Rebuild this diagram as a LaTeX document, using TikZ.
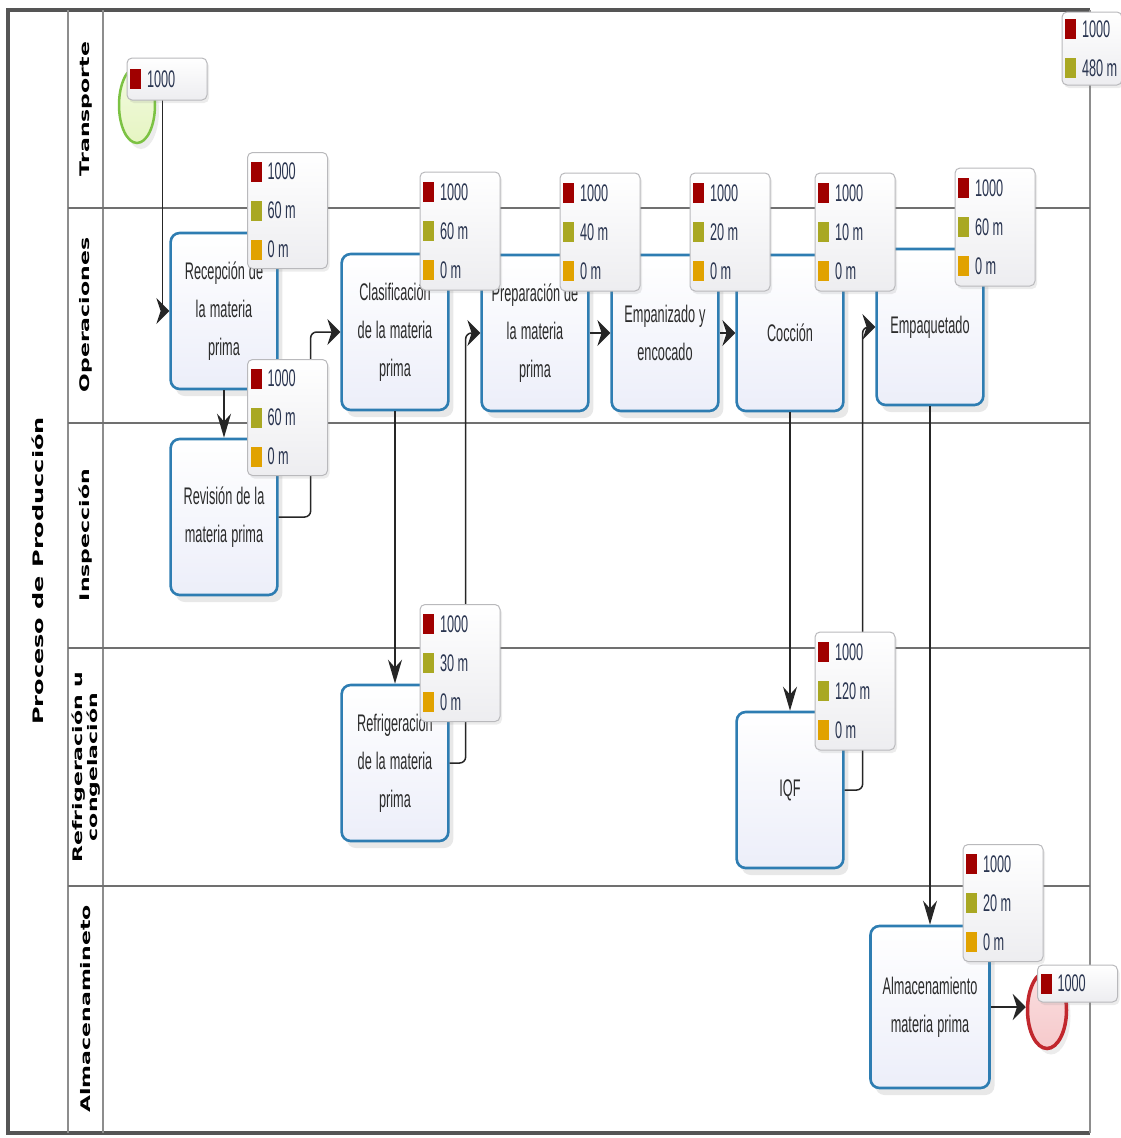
\documentclass[tikz,border=0pt]{standalone}
\usepackage{fontspec,graphicx}
\usetikzlibrary{arrows.meta,shapes.geometric,shadows}
\newfontfamily\taskfont[FakeStretch=0.53]{Liberation Sans}
\newfontfamily\lanefont{DejaVu Sans}
\definecolor{taskBlue}{HTML}{2E7DB2}
\definecolor{taskFill}{HTML}{ECEEF9}
\definecolor{taskText}{HTML}{2B2B2B}
\definecolor{badgeLine}{HTML}{B9B9BC}
\definecolor{badgeFill}{HTML}{EDEDF0}
\definecolor{textNavy}{HTML}{2A3550}
\definecolor{markRed}{HTML}{A00000}
\definecolor{markOlive}{HTML}{A9A823}
\definecolor{markAmber}{HTML}{E1A200}
\definecolor{laneGray}{HTML}{707070}
\definecolor{frameGray}{HTML}{555555}
\definecolor{startGreen}{HTML}{7CC243}
\definecolor{startFill}{HTML}{E6F5C2}
\definecolor{endRed}{HTML}{C1272D}
\definecolor{endFill}{HTML}{F6C9CB}
\newcommand\tasktext{\taskfont\fontsize{24}{38}\selectfont}
\newcommand\badgetext{\taskfont\fontsize{24}{39}\selectfont}
\newcommand\tightspace{\spaceskip=3.8pt plus 1pt\relax}
\newcommand\squash[1]{\scalebox{1}[0.6]{#1}}
\newcommand\badgerow[2]{\textcolor{#1}{\rule[-2pt]{11pt}{20pt}}\hspace{6pt}{\spaceskip=3.5pt\relax #2}}
\newcommand\trio[3]{\badgerow{markRed}{#1}\\\badgerow{markOlive}{#2}\\\badgerow{markAmber}{#3}}
\tikzset{
    task/.style={draw=taskBlue,line width=2.6pt,rounded corners=9pt,
        top color=white,bottom color=taskFill,minimum width=104,minimum height=156,
        text width=100,align=center,text=taskText,font=\tasktext,
        execute at begin node=\tightspace,
        drop shadow={shadow xshift=5pt,shadow yshift=-7pt,opacity=0.18}},
    badge/.style={draw=badgeLine,line width=1pt,rounded corners=5pt,
        top color=white,bottom color=badgeFill,text width=74,inner xsep=3pt,
        inner ysep=0pt,align=left,text=textNavy,font=\badgetext,
        drop shadow={shadow xshift=2pt,shadow yshift=-3pt,opacity=0.15}},
    startev/.style={ellipse,draw=startGreen,line width=2.5pt,
        top color=white!50!startFill,bottom color=startFill,
        minimum width=36,minimum height=76,inner sep=0pt,
        drop shadow={shadow xshift=4pt,shadow yshift=-6pt,opacity=0.15}},
    endev/.style={ellipse,draw=endRed,line width=3.5pt,
        top color=white!40!endFill,bottom color=endFill,
        minimum width=39,minimum height=77,inner sep=0pt,
        drop shadow={shadow xshift=4pt,shadow yshift=-6pt,opacity=0.15}},
    lanelabel/.style={rotate=90,font=\lanefont\bfseries\fontsize{22}{15}\selectfont,
        align=center,inner sep=0pt},
    poolline/.style={draw=frameGray,line width=3.5pt},
    sepline/.style={draw=laneGray!80,line width=1.5pt},
    laneline/.style={draw=laneGray,line width=2.6pt},
    flow/.style={draw=black!85,line width=1.5pt},
    hflow/.style={flow,-{Stealth[length=13pt,width=26pt]}},
    vflow/.style={flow,-{Stealth[length=24pt,width=14pt]}}
}
\begin{document}
\begin{tikzpicture}[x=1pt,y=-1pt]
    \useasboundingbox (0,0) rectangle (1121,1138);

    % marco del pool y carriles
    \draw[poolline] (1090,10) -- (8,10) -- (8,1133) -- (1090,1133);
    \draw[sepline] (1090,10) -- (1090,1133);
    \draw[sepline] (68,10) -- (68,1133);
    \draw[sepline] (103,10) -- (103,1133);
    \foreach \y in {208,423,648,886}
        \draw[laneline] (68,\y) -- (1090,\y);

    \node[lanelabel,font=\lanefont\bfseries\fontsize{24}{15}\selectfont] (pool) at (38,571)
        {\squash{Proceso de Producción}};
    \node[lanelabel] (ltra) at (86,109) {\squash{Transporte}};
    \node[lanelabel] (lope) at (86,315) {\squash{Operaciones}};
    \node[lanelabel] (lins) at (86,535) {\squash{Inspección}};
    \node[lanelabel] (lref) at (86,767)
        {\squash{Refrigeración u}\\\squash{congelación}};
    \node[lanelabel] (lalm) at (86,1009) {\squash{Almacenamineto}};

    % tareas
    \node[task] (rec) at (224,311) {Recepción de\\la materia\\prima};
    \node[task] (rev) at (224,517) {Revisión de la\\materia prima};
    \node[task] (cla) at (395,332) {Clasificación\\de la materia\\prima};
    \node[task] (pre) at (535,333) {Preparación de\\la materia\\prima};
    \node[task] (emp) at (665,333) {Empanizado y\\encocado};
    \node[task] (coc) at (790,333) {Cocción};
    \node[task] (paq) at (930,327) {Empaquetado};
    \node[task] (ref) at (395,763) {Refrigeración\\de la materia\\prima};
    \node[task] (iqf) at (790,790) {IQF};
    \node[task,minimum width=119,minimum height=162,text width=112] (alm) at (930,1007)
        {Almacenamiento\\materia prima};

    \node[startev] (start) at (137,105) {};
    \node[endev] (fin) at (1047,1010) {};

    % flujo
    \draw[hflow] (start.north east) -- ++(12,0) |- (rec.west);
    \draw[vflow] (rec.south) -- (rev.north);
    \draw[hflow,rounded corners=6pt] (rev.east) -- ++(32,0) |- (cla.west);
    \draw[vflow] (cla.south) -- (ref.north);
    \draw[hflow,rounded corners=6pt] (ref.east) -- ++(16,0) |- (pre.west);
    \draw[hflow] (pre.east) -- (emp.west);
    \draw[hflow] (emp.east) -- (coc.west);
    \draw[vflow] (coc.south) -- (iqf.north);
    \draw[hflow,rounded corners=6pt] (iqf.east) -- ++(18,0) |- (paq.west);
    \draw[vflow] (paq.south) -- (alm.north);
    \draw[hflow] (alm.east) -- (alm.east -| fin.west);

    % indicadores
    \node[badge,minimum height=42] (bsta) at (167,79) {\badgerow{markRed}{1000}};
    \node[badge,minimum height=116] (brec) at (287.5,210.5) {\trio{1000}{60 m}{0 m}};
    \node[badge,minimum height=116] (brev) at (287.5,417.5) {\trio{1000}{60 m}{0 m}};
    \node[badge,minimum height=118] (bcla) at (460,231) {\trio{1000}{60 m}{0 m}};
    \node[badge,minimum height=118] (bpre) at (600,232) {\trio{1000}{40 m}{0 m}};
    \node[badge,minimum height=118] (bemp) at (730,232) {\trio{1000}{20 m}{0 m}};
    \node[badge,minimum height=118] (bcoc) at (855,232) {\trio{1000}{10 m}{0 m}};
    \node[badge,minimum height=118] (bpaq) at (995,227) {\trio{1000}{60 m}{0 m}};
    \node[badge,minimum height=117] (bref) at (460,663) {\trio{1000}{30 m}{0 m}};
    \node[badge,minimum height=118] (biqf) at (855,691) {\trio{1000}{120 m}{0 m}};
    \node[badge,minimum height=117] (balm) at (1003,903) {\trio{1000}{20 m}{0 m}};
    \node[badge,minimum height=37] (bfin) at (1077.5,983.5) {\badgerow{markRed}{1000}};
    \node[badge,minimum height=73,text width=54] (bpool) at (1092,48.5)
        {\badgerow{markRed}{1000}\\\badgerow{markOlive}{480 m}};
\end{tikzpicture}
\end{document}
